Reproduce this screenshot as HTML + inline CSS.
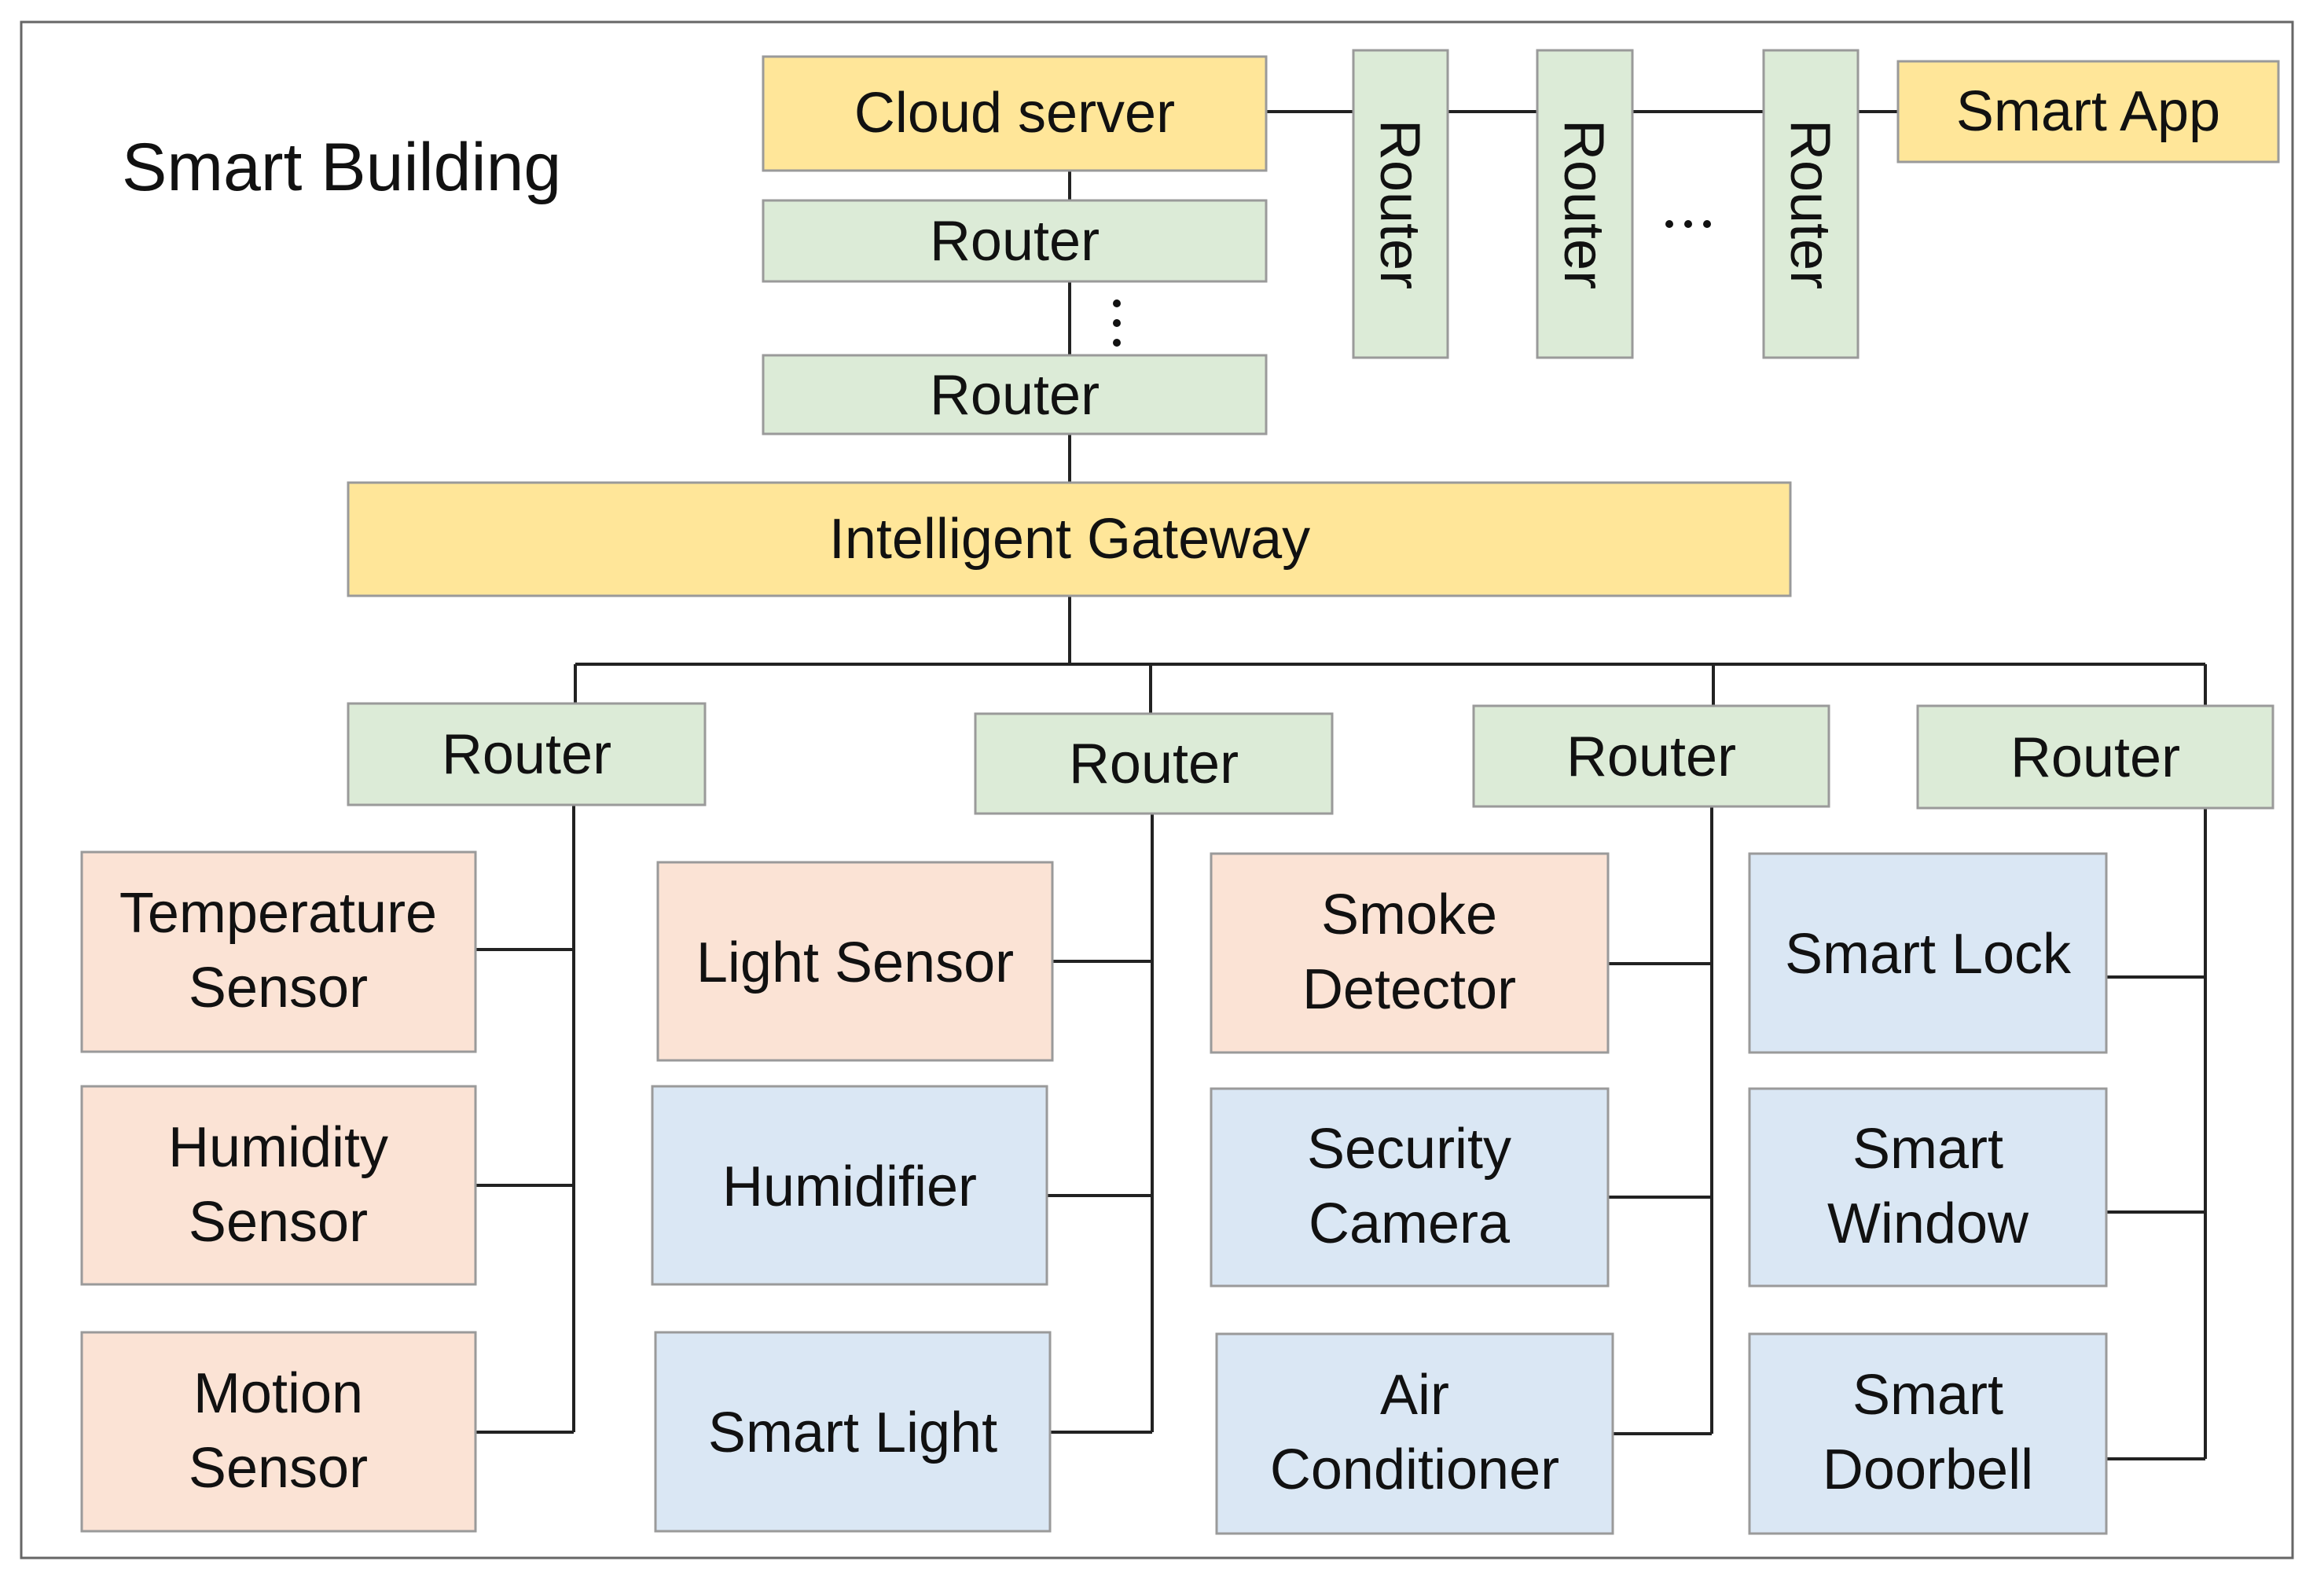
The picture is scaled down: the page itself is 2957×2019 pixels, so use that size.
<!DOCTYPE html>
<html><head><meta charset="utf-8"><style>html,body{margin:0;padding:0;background:#fff}svg{display:block}</style></head>
<body>
<svg width="2957" height="2019" viewBox="0 0 2957 2019" xmlns="http://www.w3.org/2000/svg" font-family="Liberation Sans, sans-serif" font-size="72" fill="#111">
<rect x="0" y="0" width="2957" height="2019" fill="#fff"/>
<rect x="27" y="28" width="2890" height="1954" fill="none" stroke="#666" stroke-width="3"/>
<text x="155" y="242" font-size="86">Smart Building</text>
<g stroke="#222" stroke-width="4" fill="none">
<line x1="1361" y1="217" x2="1361" y2="614"/>
<line x1="1611" y1="142" x2="2415" y2="142"/>
<line x1="1361" y1="758" x2="1361" y2="845"/>
<line x1="732" y1="845" x2="2806" y2="845"/>
<line x1="732" y1="845" x2="732" y2="895"/>
<line x1="1464" y1="845" x2="1464" y2="908"/>
<line x1="2180" y1="845" x2="2180" y2="898"/>
<line x1="2806" y1="845" x2="2806" y2="898"/>
<line x1="730" y1="1024" x2="730" y2="1822"/>
<line x1="605" y1="1208" x2="730" y2="1208"/>
<line x1="605" y1="1508" x2="730" y2="1508"/>
<line x1="605" y1="1822" x2="730" y2="1822"/>
<line x1="1466" y1="1035" x2="1466" y2="1822"/>
<line x1="1339" y1="1223" x2="1466" y2="1223"/>
<line x1="1332" y1="1521" x2="1466" y2="1521"/>
<line x1="1336" y1="1822" x2="1466" y2="1822"/>
<line x1="2178" y1="1026" x2="2178" y2="1824"/>
<line x1="2046" y1="1226" x2="2178" y2="1226"/>
<line x1="2046" y1="1523" x2="2178" y2="1523"/>
<line x1="2052" y1="1824" x2="2178" y2="1824"/>
<line x1="2806" y1="1028" x2="2806" y2="1856"/>
<line x1="2680" y1="1243" x2="2806" y2="1243"/>
<line x1="2680" y1="1542" x2="2806" y2="1542"/>
<line x1="2680" y1="1856" x2="2806" y2="1856"/>
</g>
<g stroke="#9a9a9a" stroke-width="3">
<rect x="971" y="72" width="640" height="145" fill="#ffe699"/>
<rect x="971" y="255" width="640" height="103" fill="#dcebd7"/>
<rect x="971" y="452" width="640" height="100" fill="#dcebd7"/>
<rect x="443" y="614" width="1835" height="144" fill="#ffe699"/>
<rect x="1722" y="64" width="120" height="391" fill="#dcebd7"/>
<rect x="1956" y="64" width="121" height="391" fill="#dcebd7"/>
<rect x="2244" y="64" width="120" height="391" fill="#dcebd7"/>
<rect x="2415" y="78" width="484" height="128" fill="#ffe699"/>
<rect x="443" y="895" width="454" height="129" fill="#dcebd7"/>
<rect x="1241" y="908" width="454" height="127" fill="#dcebd7"/>
<rect x="1875" y="898" width="452" height="128" fill="#dcebd7"/>
<rect x="2440" y="898" width="452" height="130" fill="#dcebd7"/>
<rect x="104" y="1084" width="501" height="254" fill="#fbe3d5"/>
<rect x="104" y="1382" width="501" height="252" fill="#fbe3d5"/>
<rect x="104" y="1695" width="501" height="253" fill="#fbe3d5"/>
<rect x="837" y="1097" width="502" height="252" fill="#fbe3d5"/>
<rect x="830" y="1382" width="502" height="252" fill="#dae7f4"/>
<rect x="834" y="1695" width="502" height="253" fill="#dae7f4"/>
<rect x="1541" y="1086" width="505" height="253" fill="#fbe3d5"/>
<rect x="1541" y="1385" width="505" height="251" fill="#dae7f4"/>
<rect x="1548" y="1697" width="504" height="254" fill="#dae7f4"/>
<rect x="2226" y="1086" width="454" height="253" fill="#dae7f4"/>
<rect x="2226" y="1385" width="454" height="251" fill="#dae7f4"/>
<rect x="2226" y="1697" width="454" height="254" fill="#dae7f4"/>
</g>
<g text-anchor="middle">
<text x="1291" y="168">Cloud server</text>
<text x="1291" y="331">Router</text>
<text x="1291" y="527">Router</text>
<text x="1361" y="710">Intelligent Gateway</text>
<text x="2657" y="166">Smart App</text>
<text x="670" y="984">Router</text>
<text x="1468" y="996">Router</text>
<text x="2101" y="987">Router</text>
<text x="2666" y="988">Router</text>
<text x="354" y="1186">Temperature</text><text x="354" y="1281">Sensor</text>
<text x="354" y="1484">Humidity</text><text x="354" y="1579">Sensor</text>
<text x="354" y="1797">Motion</text><text x="354" y="1892">Sensor</text>
<text x="1088" y="1249">Light Sensor</text>
<text x="1081" y="1534">Humidifier</text>
<text x="1085" y="1847">Smart Light</text>
<text x="1793" y="1188">Smoke</text><text x="1793" y="1283">Detector</text>
<text x="1793" y="1486">Security</text><text x="1793" y="1581">Camera</text>
<text x="1800" y="1799">Air</text><text x="1800" y="1894">Conditioner</text>
<text x="2453" y="1238">Smart Lock</text>
<text x="2453" y="1486">Smart</text><text x="2453" y="1581">Window</text>
<text x="2453" y="1799">Smart</text><text x="2453" y="1894">Doorbell</text>
<text transform="translate(1757,260) rotate(90)">Router</text>
<text transform="translate(1991,260) rotate(90)">Router</text>
<text transform="translate(2279,260) rotate(90)">Router</text>
</g>
<g fill="#111">
<circle cx="1421" cy="386" r="5"/><circle cx="1421" cy="411" r="5"/><circle cx="1421" cy="436" r="5"/>
<circle cx="2124" cy="285" r="5"/><circle cx="2148" cy="285" r="5"/><circle cx="2172" cy="285" r="5"/>
</g>
</svg>
</body></html>
